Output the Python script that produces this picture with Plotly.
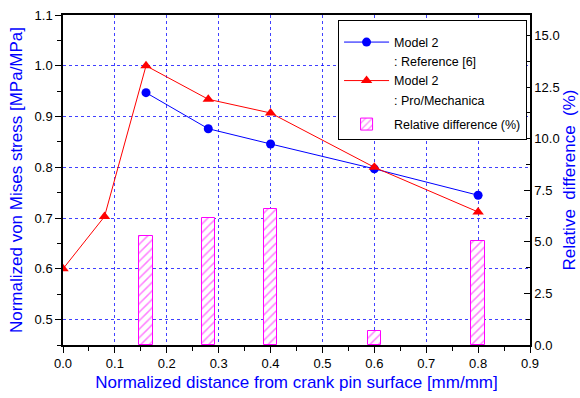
import plotly.graph_objects as go

# Data
x_ref = [0.16, 0.28, 0.40, 0.60, 0.80]
y_ref = [0.947, 0.876, 0.846, 0.797, 0.745]
x_pro = [0.0, 0.08, 0.16, 0.28, 0.40, 0.60, 0.80]
y_pro = [0.600, 0.703, 1.000, 0.934, 0.907, 0.800, 0.712]
x_diff = [0.16, 0.28, 0.40, 0.60, 0.80]
y_diff = [5.3, 6.15, 6.6, 0.68, 5.05]

FONT = "Liberation Sans, Arial, sans-serif"
BLUE = "#0000FF"
NB = "\u00a0"

fig = go.Figure()

fig.add_trace(go.Bar(
    x=x_diff, y=y_diff, width=0.026, yaxis="y",
    name="Relative difference (%)", legendrank=5, legendgroup="b",
    marker=dict(color="white", line=dict(color="#FF00FF", width=1),
                pattern=dict(shape="/", fgcolor="#FF00FF", bgcolor="white",
                             size=6, solidity=0.25, fillmode="overlay")),
))
fig.add_trace(go.Scatter(
    x=x_ref, y=y_ref, yaxis="y2", mode="lines+markers",
    name="Model 2", legendrank=1, legendgroup="a",
    line=dict(color=BLUE, width=1),
    marker=dict(symbol="circle", size=9, color=BLUE),
))
fig.add_trace(go.Scatter(
    x=[None], y=[None], yaxis="y2", mode="lines",
    name=": Reference [6]", legendrank=2, legendgroup="a", hoverinfo="skip",
    line=dict(color="rgba(0,0,0,0)", width=0),
))
fig.add_trace(go.Scatter(
    x=x_pro, y=y_pro, yaxis="y2", mode="lines+markers",
    name="Model 2", legendrank=3, legendgroup="a",
    line=dict(color="#FF0000", width=1),
    marker=dict(symbol="triangle-up", size=10, color="#FF0000"),
))
fig.add_trace(go.Scatter(
    x=[None], y=[None], yaxis="y2", mode="lines",
    name=": Pro/Mechanica", legendrank=4, legendgroup="a", hoverinfo="skip",
    line=dict(color="rgba(0,0,0,0)", width=0),
))

axis_common = dict(showline=True, linecolor="black", linewidth=1.5,
                   tickcolor="black", tickwidth=1, ticklen=6,
                   tickfont=dict(family=FONT, size=13, color="black"),
                   zeroline=False)

fig.update_layout(
    width=580, height=398,
    margin=dict(l=63, r=50, t=15, b=53, autoexpand=False),
    paper_bgcolor="white", plot_bgcolor="white",
    font=dict(family=FONT, color="black"),
    bargap=0,
    xaxis=dict(range=[0, 0.9], tick0=0, dtick=0.1, tickformat=".1f",
               ticks="outside", mirror=True,
               showgrid=True, gridcolor="rgba(0,0,255,0.75)", griddash="dot", gridwidth=1,
               minor=dict(dtick=0.05, ticks="outside", ticklen=4, tickcolor="black", showgrid=False),
               title=dict(text="Normalized distance from crank pin surface [mm/mm]",
                          font=dict(family=FONT, size=17, color=BLUE), standoff=6),
               **axis_common),
    yaxis=dict(range=[0, 16], side="right", tick0=0, dtick=2.5, tickformat=".1f",
               ticks="inside", showgrid=False, anchor="x",
               minor=dict(dtick=1.25, ticks="inside", ticklen=4, tickcolor="black"),
               title=dict(text="Relative  difference  (%)",
                          font=dict(family=FONT, size=17, color=BLUE), standoff=2),
               **axis_common),
    yaxis2=dict(range=[0.45, 1.1], side="left", overlaying="y", anchor="x",
                tick0=0.5, dtick=0.1, tickformat=".1f", ticks="outside",
                showgrid=True, gridcolor="rgba(0,0,255,0.75)", griddash="dot", gridwidth=1,
                minor=dict(dtick=0.05, ticks="outside", ticklen=4, tickcolor="black", showgrid=False),
                title=dict(text="Normalized von Mises stress [MPa/MPa]",
                           font=dict(family=FONT, size=17, color=BLUE), standoff=8),
                **axis_common),
    legend=dict(x=0.589, y=0.985, xanchor="left", yanchor="top",
                bgcolor="white", bordercolor="black", borderwidth=1,
                font=dict(family=FONT, size=12.5, color="black"),
                title=dict(text=NB, font=dict(size=5)),
                itemwidth=45, traceorder="grouped", tracegroupgap=5),
    showlegend=True,
)

fig.write_html("out.html")
